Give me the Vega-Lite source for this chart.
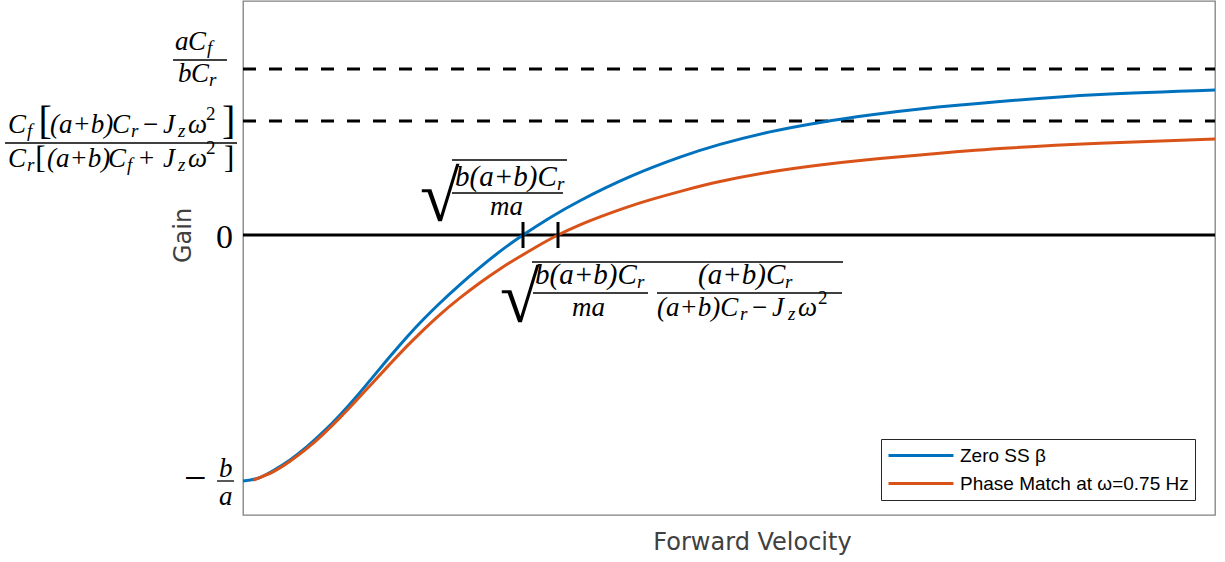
{
  "$schema": "https://vega.github.io/schema/vega-lite/v6.json",
  "width": 972,
  "height": 514,
  "autosize": {"type": "none"},
  "padding": {"left": 243, "top": 1, "right": 10, "bottom": 47},
  "background": "white",
  "datasets": {
    "curves": [
      {"x": 0, "y": -1.0, "series": "Zero SS β"},
      {"x": 1.543, "y": -0.989, "series": "Zero SS β"},
      {"x": 3.086, "y": -0.9585, "series": "Zero SS β"},
      {"x": 4.835, "y": -0.9142, "series": "Zero SS β"},
      {"x": 6.584, "y": -0.8602, "series": "Zero SS β"},
      {"x": 8.23, "y": -0.8016, "series": "Zero SS β"},
      {"x": 9.979, "y": -0.7313, "series": "Zero SS β"},
      {"x": 11.728, "y": -0.6541, "series": "Zero SS β"},
      {"x": 13.374, "y": -0.5768, "series": "Zero SS β"},
      {"x": 15.123, "y": -0.4939, "series": "Zero SS β"},
      {"x": 16.872, "y": -0.4142, "series": "Zero SS β"},
      {"x": 18.519, "y": -0.3447, "series": "Zero SS β"},
      {"x": 20.267, "y": -0.2764, "series": "Zero SS β"},
      {"x": 22.325, "y": -0.2016, "series": "Zero SS β"},
      {"x": 24.383, "y": -0.1317, "series": "Zero SS β"},
      {"x": 26.44, "y": -0.0667, "series": "Zero SS β"},
      {"x": 28.807, "y": 0.0, "series": "Zero SS β"},
      {"x": 31.584, "y": 0.0703, "series": "Zero SS β"},
      {"x": 34.671, "y": 0.1394, "series": "Zero SS β"},
      {"x": 39.815, "y": 0.237, "series": "Zero SS β"},
      {"x": 44.959, "y": 0.3163, "series": "Zero SS β"},
      {"x": 49.074, "y": 0.3683, "series": "Zero SS β"},
      {"x": 54.218, "y": 0.4191, "series": "Zero SS β"},
      {"x": 59.362, "y": 0.4577, "series": "Zero SS β"},
      {"x": 64.506, "y": 0.4882, "series": "Zero SS β"},
      {"x": 69.65, "y": 0.5126, "series": "Zero SS β"},
      {"x": 77.881, "y": 0.5427, "series": "Zero SS β"},
      {"x": 88.169, "y": 0.5711, "series": "Zero SS β"},
      {"x": 100, "y": 0.5898, "series": "Zero SS β"},
      {"x": 1.029, "y": -0.9967, "series": "Phase Match at ω=0.75 Hz"},
      {"x": 3.086, "y": -0.9626, "series": "Phase Match at ω=0.75 Hz"},
      {"x": 4.835, "y": -0.9199, "series": "Phase Match at ω=0.75 Hz"},
      {"x": 6.584, "y": -0.8675, "series": "Phase Match at ω=0.75 Hz"},
      {"x": 8.23, "y": -0.8102, "series": "Phase Match at ω=0.75 Hz"},
      {"x": 9.979, "y": -0.7423, "series": "Phase Match at ω=0.75 Hz"},
      {"x": 11.728, "y": -0.6695, "series": "Phase Match at ω=0.75 Hz"},
      {"x": 13.374, "y": -0.5992, "series": "Phase Match at ω=0.75 Hz"},
      {"x": 15.123, "y": -0.5244, "series": "Phase Match at ω=0.75 Hz"},
      {"x": 16.872, "y": -0.4516, "series": "Phase Match at ω=0.75 Hz"},
      {"x": 18.519, "y": -0.3874, "series": "Phase Match at ω=0.75 Hz"},
      {"x": 20.267, "y": -0.3232, "series": "Phase Match at ω=0.75 Hz"},
      {"x": 22.325, "y": -0.2557, "series": "Phase Match at ω=0.75 Hz"},
      {"x": 24.383, "y": -0.1939, "series": "Phase Match at ω=0.75 Hz"},
      {"x": 26.44, "y": -0.1378, "series": "Phase Match at ω=0.75 Hz"},
      {"x": 28.498, "y": -0.0874, "series": "Phase Match at ω=0.75 Hz"},
      {"x": 30.556, "y": -0.0398, "series": "Phase Match at ω=0.75 Hz"},
      {"x": 32.407, "y": 0.0, "series": "Phase Match at ω=0.75 Hz"},
      {"x": 34.671, "y": 0.0411, "series": "Phase Match at ω=0.75 Hz"},
      {"x": 36.728, "y": 0.0736, "series": "Phase Match at ω=0.75 Hz"},
      {"x": 39.3, "y": 0.1102, "series": "Phase Match at ω=0.75 Hz"},
      {"x": 41.872, "y": 0.1427, "series": "Phase Match at ω=0.75 Hz"},
      {"x": 45.473, "y": 0.1825, "series": "Phase Match at ω=0.75 Hz"},
      {"x": 49.074, "y": 0.2175, "series": "Phase Match at ω=0.75 Hz"},
      {"x": 54.218, "y": 0.2561, "series": "Phase Match at ω=0.75 Hz"},
      {"x": 59.362, "y": 0.2846, "series": "Phase Match at ω=0.75 Hz"},
      {"x": 64.506, "y": 0.3069, "series": "Phase Match at ω=0.75 Hz"},
      {"x": 69.65, "y": 0.3252, "series": "Phase Match at ω=0.75 Hz"},
      {"x": 77.881, "y": 0.3512, "series": "Phase Match at ω=0.75 Hz"},
      {"x": 88.169, "y": 0.3728, "series": "Phase Match at ω=0.75 Hz"},
      {"x": 100, "y": 0.3902, "series": "Phase Match at ω=0.75 Hz"}
    ],
    "asymptotes": [
      {"x": 0, "x2": 100, "y": 0.6748},
      {"x": 0, "x2": 100, "y": 0.4634}
    ],
    "zeroLine": [{"x": 0, "x2": 100, "y": 0}],
    "crossings": [
      {"x": 28.807, "y": -0.0528, "y2": 0.0528},
      {"x": 32.407, "y": -0.0528, "y2": 0.0528}
    ],
    "bars": [
      {"x": -7.202, "x2": -1.646, "y": 0.7114},
      {"x": -24.486, "x2": -0.617, "y": 0.374},
      {"x": -2.675, "x2": -0.926, "y": -1.0},
      {"x": 21.502, "x2": 33.333, "y": 0.3049},
      {"x": 21.502, "x2": 32.922, "y": 0.1707},
      {"x": 29.733, "x2": 61.728, "y": -0.1098},
      {"x": 29.835, "x2": 41.667, "y": -0.2358},
      {"x": 42.593, "x2": 61.626, "y": -0.2358}
    ],
    "mathItalic": [
      {"t": "a", "x": -6.996, "y": 0.752},
      {"t": "C", "x": -5.658, "y": 0.752},
      {"t": "b", "x": -6.687, "y": 0.622},
      {"t": "C", "x": -5.35, "y": 0.622},
      {"t": "C", "x": -24.177, "y": 0.4146},
      {"t": "(a+b)", "x": -19.856, "y": 0.4146},
      {"t": "C", "x": -13.477, "y": 0.4146},
      {"t": "J", "x": -8.23, "y": 0.4146},
      {"t": "ω", "x": -5.658, "y": 0.4146},
      {"t": "C", "x": -24.177, "y": 0.2764},
      {"t": "(a+b)", "x": -20.165, "y": 0.2764},
      {"t": "C", "x": -13.889, "y": 0.2764},
      {"t": "J", "x": -8.23, "y": 0.2764},
      {"t": "ω", "x": -5.658, "y": 0.2764},
      {"t": "b", "x": -2.469, "y": -0.9837},
      {"t": "a", "x": -2.469, "y": -1.0976},
      {"t": "ma", "x": 25.412, "y": 0.0813},
      {"t": "ma", "x": 33.848, "y": -0.3293},
      {"t": "(a+b)C", "x": 42.593, "y": -0.3293},
      {"t": "J", "x": 54.424, "y": -0.3293},
      {"t": "ω", "x": 57.099, "y": -0.3293}
    ],
    "annItalic": [
      {"t": "b(a+b)C", "x": 21.811, "y": 0.1992},
      {"t": "b(a+b)C", "x": 30.041, "y": -0.1992},
      {"t": "(a+b)C", "x": 46.811, "y": -0.1992}
    ],
    "mathUpright": [
      {"t": "−", "x": -10.288, "y": 0.4146},
      {"t": "+", "x": -10.7, "y": 0.2764},
      {"t": "−", "x": 52.366, "y": -0.3293}
    ],
    "mathSub": [
      {"t": "f", "x": -3.704, "y": 0.7358},
      {"t": "r", "x": -3.498, "y": 0.6057},
      {"t": "f", "x": -22.222, "y": 0.3984},
      {"t": "r", "x": -11.523, "y": 0.3984},
      {"t": "z", "x": -6.687, "y": 0.3984},
      {"t": "r", "x": -22.222, "y": 0.2602},
      {"t": "f", "x": -11.934, "y": 0.2602},
      {"t": "z", "x": -6.687, "y": 0.2602},
      {"t": "r", "x": 32.305, "y": 0.1829},
      {"t": "r", "x": 40.535, "y": -0.2154},
      {"t": "r", "x": 55.761, "y": -0.2154},
      {"t": "r", "x": 51.132, "y": -0.3455},
      {"t": "z", "x": 56.07, "y": -0.3455}
    ],
    "mathSup": [
      {"t": "2", "x": -3.807, "y": 0.4675},
      {"t": "2", "x": -3.807, "y": 0.3293},
      {"t": "2", "x": 59.156, "y": -0.2805}
    ],
    "bigBrackets": [
      {"t": "[", "x": -21.05, "y": 0.4106},
      {"t": "]", "x": -2.16, "y": 0.4106}
    ],
    "plainBrackets": [
      {"t": "[", "x": -21.379, "y": 0.2707},
      {"t": "]", "x": -1.955, "y": 0.2707}
    ],
    "zeroLabel": [{"t": "0", "x": -2.778, "y": -0.0528}],
    "minusSign": [{"t": "−", "x": -6.07, "y": -1.0407}],
    "radicals": [
      {"t": "√", "x": 18.21, "y": 0.0569},
      {"t": "√", "x": 26.44, "y": -0.3537}
    ]
  },
  "encoding": {
    "x": {
      "field": "x", "type": "quantitative",
      "scale": {"domain": [0, 100], "nice": false, "zero": false},
      "axis": {"title": "Forward Velocity", "titlePadding": 15, "titleX": 509}
    },
    "y": {
      "field": "y", "type": "quantitative",
      "scale": {"domain": [-1.1382, 0.9512], "nice": false, "zero": false},
      "axis": {"title": "Gain", "titlePadding": 48, "titleY": 234}
    }
  },
  "layer": [
    {
      "data": {"name": "asymptotes"},
      "mark": {"type": "rule", "color": "black", "strokeWidth": 3, "strokeDash": [13, 13]},
      "encoding": {"x2": {"field": "x2"}}
    },
    {
      "data": {"name": "zeroLine"},
      "mark": {"type": "rule", "color": "black", "strokeWidth": 3},
      "encoding": {"x2": {"field": "x2"}}
    },
    {
      "data": {"name": "curves"},
      "mark": {"type": "line", "strokeWidth": 3, "interpolate": "natural"},
      "encoding": {
        "color": {
          "field": "series", "type": "nominal",
          "scale": {"domain": ["Zero SS β", "Phase Match at ω=0.75 Hz"], "range": ["#0072BD", "#D95319"]},
          "legend": {
            "orient": "none", "legendX": 638, "legendY": 438,
            "title": null,
            "symbolType": "M-1,0H6.22", "symbolSize": 324, "symbolStrokeWidth": 3,
            "labelOffset": 52, "labelFontSize": 19, "labelFont": "Liberation Sans", "labelColor": "black",
            "labelLimit": 400, "padding": 6, "rowPadding": 7,
            "strokeColor": "#262626", "fillColor": "white"
          }
        }
      }
    },
    {
      "data": {"name": "crossings"},
      "mark": {"type": "rule", "color": "black", "strokeWidth": 3},
      "encoding": {"y2": {"field": "y2"}}
    },
    {
      "data": {"name": "bars"},
      "mark": {"type": "rule", "color": "black", "strokeWidth": 1.3},
      "encoding": {"x2": {"field": "x2"}}
    },
    {
      "data": {"name": "mathItalic"},
      "mark": {"type": "text", "align": "left", "baseline": "alphabetic", "font": "Liberation Serif", "fontStyle": "italic", "fontSize": 27, "color": "black"},
      "encoding": {"text": {"field": "t"}}
    },
    {
      "data": {"name": "annItalic"},
      "mark": {"type": "text", "align": "left", "baseline": "alphabetic", "font": "Liberation Serif", "fontStyle": "italic", "fontSize": 29, "color": "black"},
      "encoding": {"text": {"field": "t"}}
    },
    {
      "data": {"name": "mathUpright"},
      "mark": {"type": "text", "align": "left", "baseline": "alphabetic", "font": "Liberation Serif", "fontSize": 27, "color": "black"},
      "encoding": {"text": {"field": "t"}}
    },
    {
      "data": {"name": "mathSub"},
      "mark": {"type": "text", "align": "left", "baseline": "alphabetic", "font": "Liberation Serif", "fontStyle": "italic", "fontSize": 19, "color": "black"},
      "encoding": {"text": {"field": "t"}}
    },
    {
      "data": {"name": "mathSup"},
      "mark": {"type": "text", "align": "left", "baseline": "alphabetic", "font": "Liberation Serif", "fontSize": 19, "color": "black"},
      "encoding": {"text": {"field": "t"}}
    },
    {
      "data": {"name": "bigBrackets"},
      "mark": {"type": "text", "align": "left", "baseline": "alphabetic", "font": "Liberation Serif", "fontSize": 40, "color": "black"},
      "encoding": {"text": {"field": "t"}}
    },
    {
      "data": {"name": "plainBrackets"},
      "mark": {"type": "text", "align": "left", "baseline": "alphabetic", "font": "Liberation Serif", "fontSize": 31, "color": "black"},
      "encoding": {"text": {"field": "t"}}
    },
    {
      "data": {"name": "zeroLabel"},
      "mark": {"type": "text", "align": "left", "baseline": "alphabetic", "font": "Liberation Serif", "fontSize": 34, "color": "black"},
      "encoding": {"text": {"field": "t"}}
    },
    {
      "data": {"name": "minusSign"},
      "mark": {"type": "text", "align": "left", "baseline": "alphabetic", "font": "Liberation Serif", "fontSize": 40, "color": "black"},
      "encoding": {"text": {"field": "t"}}
    },
    {
      "data": {"name": "radicals"},
      "mark": {"type": "text", "align": "left", "baseline": "alphabetic", "font": "Liberation Serif", "fontSize": 72, "color": "black"},
      "encoding": {"text": {"field": "t"}}
    }
  ],
  "config": {
    "view": {"stroke": "#808080", "strokeWidth": 1.3},
    "axis": {
      "labels": false, "ticks": false, "domain": false, "grid": false,
      "titleFont": "DejaVu Sans", "titleFontSize": 24, "titleFontWeight": "normal", "titleColor": "#404040"
    }
  }
}
